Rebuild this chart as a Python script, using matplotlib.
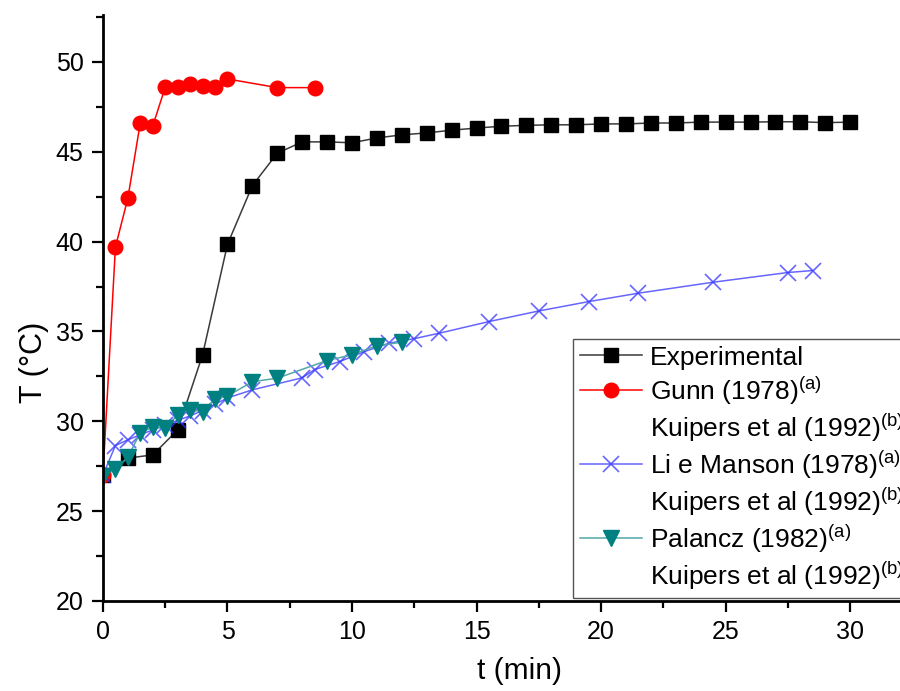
import numpy as np
import matplotlib
matplotlib.use('Agg')
import matplotlib.pyplot as plt
from matplotlib.lines import Line2D
from matplotlib.ticker import MultipleLocator

plt.rcParams['font.family'] = ['Liberation Sans', 'DejaVu Sans']
plt.rcParams['mathtext.fontset'] = 'custom'
plt.rcParams['mathtext.rm'] = 'Liberation Sans'

# experimental temperature profile
t_exp = [0, 1, 2, 3, 4, 5, 6, 7, 8, 9, 10, 11, 12, 13, 14, 15, 16, 17, 18, 19,
         20, 21, 22, 23, 24, 25, 26, 27, 28, 29, 30]
T_exp = [27.0, 27.95, 28.13, 29.52, 33.7, 39.85, 43.12, 44.92, 45.55, 45.55,
         45.5, 45.77, 45.94, 46.05, 46.2, 46.32, 46.42, 46.47, 46.5, 46.5,
         46.55, 46.55, 46.6, 46.6, 46.65, 46.65, 46.65, 46.67, 46.67, 46.62, 46.65]

# Gunn (1978) / Kuipers et al (1992)
t_gunn = [0, 0.5, 1, 1.5, 2, 2.5, 3, 3.5, 4, 4.5, 5, 7, 8.5]
T_gunn = [27.0, 39.69, 42.42, 46.62, 46.44, 48.59, 48.59, 48.76, 48.68, 48.62,
          49.05, 48.57, 48.57]

# Li e Manson (1978) / Kuipers et al (1992)
t_li = [0, 0.5, 1, 1.5, 2, 2.5, 3, 3.5, 4, 4.5, 5, 6, 8, 8.5, 9.5, 10.5, 11.5,
        12.5, 13.5, 15.5, 17.5, 19.5, 21.5, 24.5, 27.5, 28.5]
T_li = [27.0, 28.65, 28.97, 29.25, 29.52, 29.8, 30.05, 30.3, 30.6, 30.95, 31.3,
        31.75, 32.42, 32.88, 33.32, 33.88, 34.35, 34.6, 34.9, 35.55, 36.14,
        36.66, 37.13, 37.74, 38.28, 38.39]

# Palancz (1982) / Kuipers et al (1992)
t_pal = [0, 0.5, 1, 1.5, 2, 2.5, 3, 3.5, 4, 4.5, 5, 6, 7, 9, 10, 11, 12]
T_pal = [26.96, 27.33, 28.0, 29.37, 29.67, 29.6, 30.36, 30.64, 30.54, 31.25,
         31.41, 32.2, 32.4, 33.38, 33.7, 34.21, 34.4]

fig = plt.figure(figsize=(9, 6.91), dpi=100)
ax = fig.add_axes([0.1144, 0.1303, 0.8856, 0.8477])

ax.plot(t_exp, T_exp, color='#3a3a3a', lw=1.1, marker='s', ms=10,
        mfc='black', mec='black', label='Experimental')
ax.plot(t_gunn, T_gunn, color='red', lw=1.1, marker='o', ms=10.5,
        mfc='red', mec='red', label=r'Gunn (1978)$^{\mathregular{(a)}}$')
ax.plot(t_li, T_li, color=(0.2, 0.2, 1.0, 0.75), lw=1.1, marker='x', ms=11,
        mew=1.2, label=r'Li e Manson (1978)$^{\mathregular{(a)}}$')
ax.plot(t_pal, T_pal, color='#52a8a8', lw=1.1, marker='v', ms=12,
        mfc='#008080', mec='#008080', label=r'Palancz (1982)$^{\mathregular{(a)}}$')

ax.set_xlim(0, 32)
ax.set_ylim(20, 52.6)
ax.xaxis.set_major_locator(MultipleLocator(5))
ax.xaxis.set_minor_locator(MultipleLocator(2.5))
ax.yaxis.set_major_locator(MultipleLocator(5))
ax.yaxis.set_minor_locator(MultipleLocator(2.5))
ax.tick_params(which='major', direction='out', length=8, width=1.6,
               labelsize=18, pad=6)
ax.tick_params(which='minor', direction='out', length=5, width=1.6)
ax.spines['top'].set_visible(False)
ax.spines['right'].set_visible(False)
ax.spines['left'].set_linewidth(2)
ax.spines['bottom'].set_linewidth(2)

ax.set_xlabel('t (min)', fontsize=21.5)
ax.set_ylabel('T (°C)', fontsize=22)
ax.xaxis.set_label_coords(0.523, -0.095)
ax.yaxis.set_label_coords(-0.068, 0.408)

# legend: each model entry followed by its source line
h, l = ax.get_legend_handles_labels()
blank = Line2D([], [], linestyle='none', marker='none')
kuip = r'Kuipers et al (1992)$^{\mathregular{(b)}}$'
handles = [h[0], h[1], blank, h[2], blank, h[3], blank]
labels = [l[0], l[1], kuip, l[2], kuip, l[3], kuip]
leg = ax.legend(handles, labels, loc='upper left',
                bbox_to_anchor=(573 / 900, 1 - 339 / 691),
                bbox_transform=fig.transFigure, fontsize=19,
                frameon=True, fancybox=False, framealpha=1,
                edgecolor='#555555', handlelength=2.35, handletextpad=0.3,
                labelspacing=0.16, borderpad=0.25, borderaxespad=0)
leg.get_frame().set_linewidth(1)

plt.savefig('out.png', dpi=100)
